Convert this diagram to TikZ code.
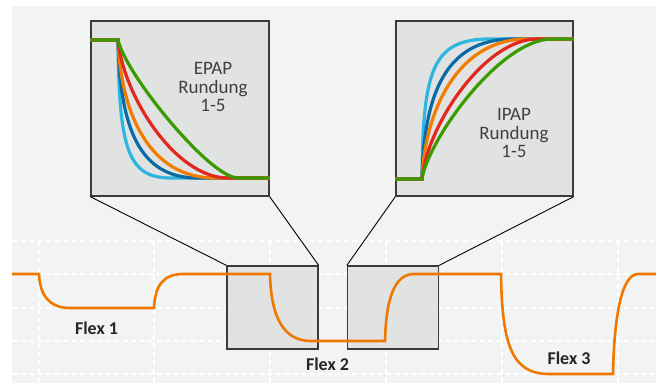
\documentclass[tikz,border=0pt]{standalone}
\usepackage{fontspec}
\setmainfont{Carlito}
\definecolor{bggrey}{HTML}{F2F3F3}
\definecolor{boxgrey}{HTML}{E1E2E2}
\definecolor{framegrey}{HTML}{3A3A3A}
\definecolor{sigorange}{HTML}{F07800}
\definecolor{rcyan}{HTML}{2DB6DF}
\definecolor{rblue}{HTML}{0A6AA6}
\definecolor{rorange}{HTML}{F07D00}
\definecolor{rred}{HTML}{E2281E}
\definecolor{rgreen}{HTML}{3A9B00}
\begin{document}
\begin{tikzpicture}[x=1pt,y=-1pt,
  gridline/.style={white,line width=1.1pt,dash pattern=on 5pt off 3.5pt},
  lensbox/.style={draw=framegrey,fill=boxgrey,line width=1.3pt,minimum width=91pt,minimum height=83pt,inner sep=0pt},
  zoombox/.style={lensbox,minimum width=178pt,minimum height=175pt},
  signal/.style={sigorange,line width=2.6pt},
  ramp/.style={line width=3.2pt},
  flexlabel/.style={inner sep=0pt,font=\fontsize{18}{20}\selectfont\bfseries,text=black!85},
  insettext/.style={inner sep=0pt,align=center,font=\fontsize{19}{18.5}\selectfont,text=black!75}]
\useasboundingbox (0,0) rectangle (656,383);
\fill[white] (0,0) rectangle (656,383);
\fill[bggrey] (12,6) rectangle (656,383);
% grid
\foreach \y in {241,274,308,341,374}
  \draw[gridline] (12,\y) -- (656,\y);
\foreach \x in {39,154,270,386,502,618}
  \draw[gridline] (\x,241) -- (\x,383);
% lenses on the signal
\node[lensbox] (lens1) at (272.5,307.5) {};
\node[lensbox] (lens2) at (393,307.5) {};
% signal
\draw[signal] (12,274) -- (39,274) .. controls (40,296) and (50,308) .. (70,308)
  -- (154,308) .. controls (155,286) and (163,274) .. (183,274)
  -- (270,274) .. controls (271,318) and (284,341) .. (311,341)
  -- (385,341) .. controls (386,300) and (394,274) .. (414,274)
  -- (501,274) .. controls (502,345) and (512,374) .. (549,374)
  -- (613,374) .. controls (614,320) and (621,274) .. (638,274) -- (656,274);
\node[flexlabel] (flex1) at (96.5,328.5) {Flex 1};
\node[flexlabel] (flex2) at (327.5,364) {Flex 2};
\node[flexlabel] (flex3) at (569,358) {Flex 3};
% enlarged views
\node[zoombox] (epap) at (180,108.5) {};
\node[zoombox,minimum width=177pt] (ipap) at (484.5,108.5) {};
\draw[black,line width=0.9pt] (epap.south west) -- (lens1.north west);
\draw[black,line width=0.9pt] (epap.south east) -- (lens1.north east);
\draw[black,line width=0.9pt] (ipap.south west) -- (lens2.north west);
\draw[black,line width=0.9pt] (ipap.south east) -- (lens2.north east);
% EPAP rounding, green on top
\foreach \col/\xa/\ya/\xb/\xe in {rcyan/119/150/128/171, rblue/120/130/140/198,
    rorange/121/115/150/215, rred/123/95/175/228, rgreen/126/75/210/238}
  \draw[ramp,\col] (epap.west |- 0,40) -- (118,40) .. controls (\xa,\ya) and (\xb,178) .. (\xe,178) -- (epap.east |- 0,178);
\node[insettext] (epaptext) at (213,87.4) {EPAP\\Rundung\\1-5};
% IPAP rounding, green on top
\foreach \col/\xa/\ya/\xb/\xe in {rcyan/423/70/432/490, rblue/424/95/445/513,
    rorange/425/110/458/527, rred/427/125/485/537, rgreen/428/140/500/552}
  \draw[ramp,\col] (ipap.west |- 0,179) -- (422,179) .. controls (\xa,\ya) and (\xb,39) .. (\xe,39) -- (ipap.east |- 0,39);
\node[insettext] (ipaptext) at (514,133.3) {IPAP\\Rundung\\1-5};
\end{tikzpicture}
\end{document}
